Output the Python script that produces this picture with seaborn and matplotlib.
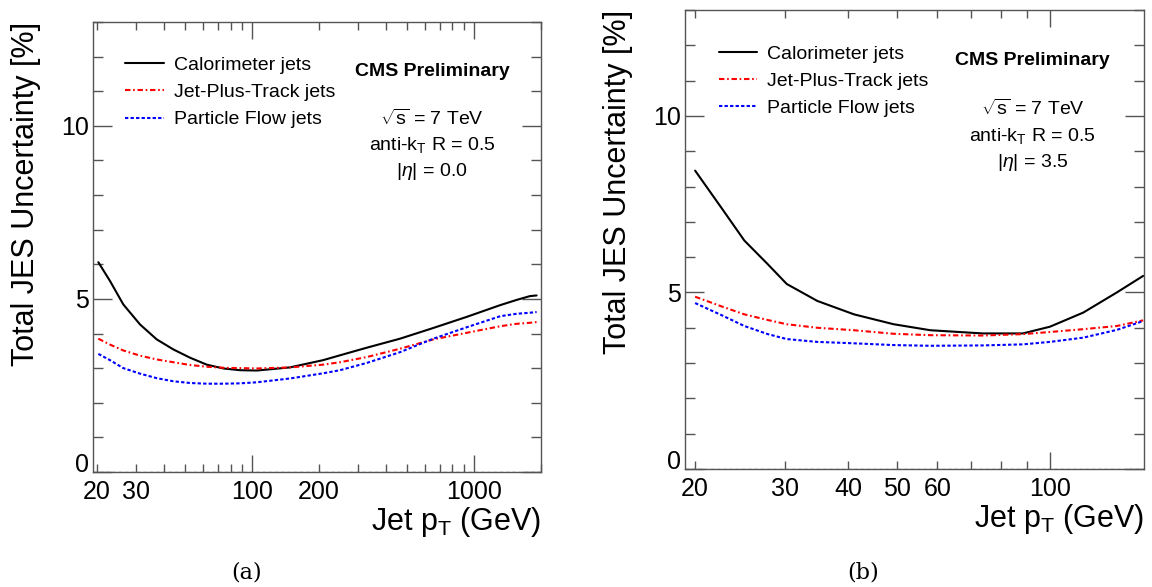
import numpy as np
import pandas as pd
import seaborn as sns
import matplotlib.pyplot as plt
from matplotlib.ticker import FixedLocator, NullFormatter

# panel (a), |eta| = 0.0
pt_a = [20.3, 22.9, 26.3, 31.3, 37.2, 44.2, 52.6, 62.5, 74.3, 88.3, 105, 148,
        209, 249, 329, 464, 656, 927, 1313, 1556, 1786, 1915]
calo_a = [6.06, 5.52, 4.84, 4.26, 3.83, 3.54, 3.30, 3.10, 2.99, 2.94, 2.93, 3.02,
          3.23, 3.37, 3.59, 3.85, 4.16, 4.48, 4.82, 4.97, 5.08, 5.1]
jpt_a = [3.85, 3.68, 3.51, 3.36, 3.25, 3.17, 3.09, 3.04, 3.01, 3.0, 2.99, 3.02,
         3.1, 3.17, 3.32, 3.56, 3.83, 4.02, 4.21, 4.28, 4.31, 4.33]
pf_a = [3.41, 3.23, 3.0, 2.84, 2.71, 2.62, 2.57, 2.55, 2.55, 2.56, 2.59, 2.70,
        2.85, 2.94, 3.15, 3.46, 3.85, 4.18, 4.5, 4.57, 4.6, 4.62]

# panel (b), |eta| = 3.5
pt_b = [20, 22.6, 25, 27.8, 30.3, 34.8, 41.1, 49.2, 58.1, 73.6, 88.4, 99.9, 116.2, 135.3, 152.5]
calo_b = [8.45, 7.37, 6.47, 5.8, 5.24, 4.76, 4.38, 4.1, 3.93, 3.84, 3.84, 4.03, 4.43, 5.0, 5.47]
jpt_b = [4.88, 4.6, 4.38, 4.22, 4.1, 4.0, 3.93, 3.83, 3.79, 3.78, 3.82, 3.88, 3.96, 4.05, 4.21]
pf_b = [4.7, 4.35, 4.05, 3.82, 3.68, 3.6, 3.56, 3.51, 3.49, 3.5, 3.53, 3.6, 3.72, 3.94, 4.19]

series = ["Calorimeter jets", "Jet-Plus-Track jets", "Particle Flow jets"]
colors = ["black", "red", "blue"]
styles = ["-", (0, (2.6, 1.3, 0.8, 1.3)), (0, (1.6, 1.05))]

sns.set_style("white")
plt.rcParams["font.family"] = ["Liberation Sans", "DejaVu Sans"]
plt.rcParams["mathtext.fontset"] = "custom"
plt.rcParams["mathtext.rm"] = "Liberation Sans"
plt.rcParams["mathtext.it"] = "Liberation Sans:italic"
for key in ["text.color", "axes.labelcolor", "xtick.color", "ytick.color"]:
    plt.rcParams[key] = "black"

fig = plt.figure(figsize=(11.52, 5.87), dpi=100)
ax_a = fig.add_axes([0.0807, 0.196, 0.3889, 0.7665])
ax_b = fig.add_axes([0.5946, 0.201, 0.3984, 0.782])

panels = [
    (ax_a, pt_a, [calo_a, jpt_a, pf_a], (19.2, 2004), [100, 1000],
     [20, 30, 40, 50, 60, 70, 80, 90, 200, 300, 400, 500, 600, 700, 800, 900, 2000],
     {20: "20", 30: "30", 100: "100", 200: "200", 1000: "1000"}, "0.0", (0.033, 0.963)),
    (ax_b, pt_b, [calo_b, jpt_b, pf_b], (19.1, 153), [100],
     [20, 30, 40, 50, 60, 70, 80, 90],
     {20: "20", 30: "30", 40: "40", 50: "50", 60: "60", 100: "100"}, "3.5", (0.035, 0.962)),
]

for ax, pt, vals, xlim, majors, minors, labels, eta, leg_pos in panels:
    df = pd.DataFrame({"pt": pt})
    for name, v, c, ls in zip(series, vals, colors, styles):
        df[name] = v
        sns.lineplot(x="pt", y=name, data=df, ax=ax, color=c, linestyle=ls,
                     linewidth=1.5, label=name)
    ax.axhline(0, color="darkgreen", linestyle=(0, (3, 2)), linewidth=0.9)
    ax.set_xscale("log")
    ax.set_xlim(*xlim)
    ax.set_ylim(0, 13)

    ax.xaxis.set_major_locator(FixedLocator(majors))
    ax.xaxis.set_minor_locator(FixedLocator(minors))
    ax.xaxis.set_major_formatter(NullFormatter())
    ax.xaxis.set_minor_formatter(NullFormatter())
    ax.set_yticks([0, 5, 10])
    ax.set_yticklabels(["0", "5", "10"], fontsize=18)
    # the "0" sits just above the corner, as in the ROOT original
    ax.get_yticklabels()[0].set_verticalalignment("baseline")
    ax.yaxis.set_minor_locator(FixedLocator(range(0, 14)))
    ax.tick_params(which="both", direction="in", top=True, right=True,
                   bottom=True, left=True, color="#555555", width=1)
    ax.tick_params(axis="x", which="major", length=12)
    ax.tick_params(axis="x", which="minor", length=6)
    ax.tick_params(axis="y", which="major", length=14, pad=3)
    ax.tick_params(axis="y", which="minor", length=7)
    for k, t in labels.items():
        ax.annotate(t, (k, 0), xycoords=("data", "axes fraction"),
                    xytext=(0, -6), textcoords="offset points",
                    ha="center", va="top", fontsize=18)
    for s in ax.spines.values():
        s.set_color("#555555")
        s.set_linewidth(1)

    ax.set_xlabel("Jet p$_\\mathregular{T}$ (GeV)", fontsize=22, loc="right",
                  labelpad=20)
    ax.set_ylabel("Total JES Uncertainty [%]", fontsize=22, loc="top", labelpad=14)

    ax.legend(loc="upper left", bbox_to_anchor=leg_pos, frameon=False,
              fontsize=14, handlelength=2.0, labelspacing=0.5, handletextpad=0.5)

    ax.text(0.757, 0.89, "CMS Preliminary", transform=ax.transAxes, ha="center",
            va="center", fontsize=14, fontweight="bold")
    ax.text(0.757, 0.785, r"$\sqrt{\mathregular{s}}$ = 7 TeV", transform=ax.transAxes,
            ha="center", va="center", fontsize=14)
    ax.text(0.757, 0.726, "anti-k$_\\mathregular{T}$ R = 0.5", transform=ax.transAxes,
            ha="center", va="center", fontsize=14)
    ax.text(0.757, 0.667, "|$\\eta$| = " + eta, transform=ax.transAxes,
            ha="center", va="center", fontsize=14)

fig.text(247 / 1152, 1 - 572 / 587, "(a)", ha="center", va="center",
         fontsize=16, family="DejaVu Serif")
fig.text(863 / 1152, 1 - 572 / 587, "(b)", ha="center", va="center",
         fontsize=16, family="DejaVu Serif")

fig.savefig("out.png", dpi=100)
